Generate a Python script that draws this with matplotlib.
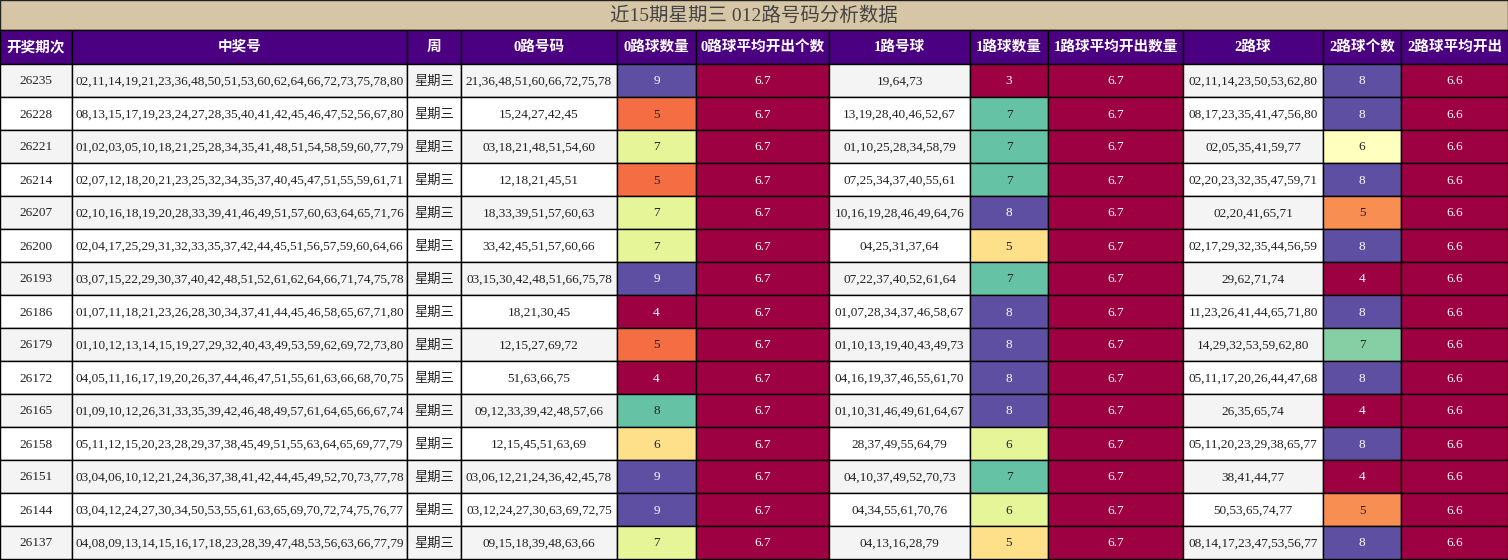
import matplotlib.pyplot as plt
import matplotlib.patches as mpatches
from matplotlib import cm, colors
import numpy as np

title = "近15期星期三 012路号码分析数据"
headers = ["开奖期次", "中奖号", "周", "0路号码", "0路球数量", "0路球平均开出个数",
           "1路号球", "1路球数量", "1路球平均开出数量", "2路球", "2路球个数", "2路球平均开出"]

issues = ["26235", "26228", "26221", "26214", "26207", "26200", "26193", "26186",
          "26179", "26172", "26165", "26158", "26151", "26144", "26137"]
draws = [
    "02,11,14,19,21,23,36,48,50,51,53,60,62,64,66,72,73,75,78,80",
    "08,13,15,17,19,23,24,27,28,35,40,41,42,45,46,47,52,56,67,80",
    "01,02,03,05,10,18,21,25,28,34,35,41,48,51,54,58,59,60,77,79",
    "02,07,12,18,20,21,23,25,32,34,35,37,40,45,47,51,55,59,61,71",
    "02,10,16,18,19,20,28,33,39,41,46,49,51,57,60,63,64,65,71,76",
    "02,04,17,25,29,31,32,33,35,37,42,44,45,51,56,57,59,60,64,66",
    "03,07,15,22,29,30,37,40,42,48,51,52,61,62,64,66,71,74,75,78",
    "01,07,11,18,21,23,26,28,30,34,37,41,44,45,46,58,65,67,71,80",
    "01,10,12,13,14,15,19,27,29,32,40,43,49,53,59,62,69,72,73,80",
    "04,05,11,16,17,19,20,26,37,44,46,47,51,55,61,63,66,68,70,75",
    "01,09,10,12,26,31,33,35,39,42,46,48,49,57,61,64,65,66,67,74",
    "05,11,12,15,20,23,28,29,37,38,45,49,51,55,63,64,65,69,77,79",
    "03,04,06,10,12,21,24,36,37,38,41,42,44,45,49,52,70,73,77,78",
    "03,04,12,24,27,30,34,50,53,55,61,63,65,69,70,72,74,75,76,77",
    "04,08,09,13,14,15,16,17,18,23,28,39,47,48,53,56,63,66,77,79",
]
weekday = ["星期三"] * 15
road0 = ["21,36,48,51,60,66,72,75,78", "15,24,27,42,45", "03,18,21,48,51,54,60",
         "12,18,21,45,51", "18,33,39,51,57,60,63", "33,42,45,51,57,60,66",
         "03,15,30,42,48,51,66,75,78", "18,21,30,45", "12,15,27,69,72", "51,63,66,75",
         "09,12,33,39,42,48,57,66", "12,15,45,51,63,69", "03,06,12,21,24,36,42,45,78",
         "03,12,24,27,30,63,69,72,75", "09,15,18,39,48,63,66"]
cnt0 = [9, 5, 7, 5, 7, 7, 9, 4, 5, 4, 8, 6, 9, 9, 7]
avg0 = [6.7] * 15
road1 = ["19,64,73", "13,19,28,40,46,52,67", "01,10,25,28,34,58,79", "07,25,34,37,40,55,61",
         "10,16,19,28,46,49,64,76", "04,25,31,37,64", "07,22,37,40,52,61,64",
         "01,07,28,34,37,46,58,67", "01,10,13,19,40,43,49,73", "04,16,19,37,46,55,61,70",
         "01,10,31,46,49,61,64,67", "28,37,49,55,64,79", "04,10,37,49,52,70,73",
         "04,34,55,61,70,76", "04,13,16,28,79"]
cnt1 = [3, 7, 7, 7, 8, 5, 7, 8, 8, 8, 8, 6, 7, 6, 5]
avg1 = [6.7] * 15
road2 = ["02,11,14,23,50,53,62,80", "08,17,23,35,41,47,56,80", "02,05,35,41,59,77",
         "02,20,23,32,35,47,59,71", "02,20,41,65,71", "02,17,29,32,35,44,56,59",
         "29,62,71,74", "11,23,26,41,44,65,71,80", "14,29,32,53,59,62,80",
         "05,11,17,20,26,44,47,68", "26,35,65,74", "05,11,20,23,29,38,65,77",
         "38,41,44,77", "50,53,65,74,77", "08,14,17,23,47,53,56,77"]
cnt2 = [8, 8, 6, 8, 5, 8, 4, 8, 7, 8, 4, 8, 4, 5, 8]
avg2 = [6.6] * 15

columns = [issues, draws, weekday, road0, cnt0, avg0, road1, cnt1, avg1, road2, cnt2, avg2]
colored = {4, 5, 7, 8, 10, 11}
edges = [0, 72, 407, 461, 617, 696, 829, 970, 1048, 1183, 1323, 1401, 1508]

W, H = 1508, 560
fig = plt.figure(figsize=(W / 100, H / 100), dpi=100)
ax = fig.add_axes([0, 0, 1, 1])
ax.set_xlim(0, W)
ax.set_ylim(H, 0)
ax.axis('off')

fam = ['Liberation Serif', 'Noto Sans CJK SC']
cmap = plt.get_cmap('Spectral')

ax.add_patch(mpatches.Rectangle((0, 0), W, 30, facecolor='#d6c6a6', edgecolor='#222', lw=1))
ax.text(W / 2, 16, title, ha='center', va='center', fontsize=14, color='#444', family=fam)

hy0, hy1 = 30, 64
row_h = (H - 1 - hy1) / len(issues)
for j, h in enumerate(headers):
    x0, x1 = edges[j], edges[j + 1]
    ax.add_patch(mpatches.Rectangle((x0, hy0), x1 - x0, hy1 - hy0, facecolor='#4b0082', edgecolor='black', lw=1))
    ax.text((x0 + x1) / 2, (hy0 + hy1) / 2, h, ha='center', va='center', fontsize=10.5,
            color='white', weight='bold', family=fam)

for j, col in enumerate(columns):
    x0, x1 = edges[j], edges[j + 1]
    if j in colored:
        vals = np.array(col, dtype=float)
        lo, hi = vals.min(), vals.max()
        norm = colors.Normalize(lo, hi if hi > lo else lo + 1)
    for i, v in enumerate(col):
        y0 = hy1 + i * row_h
        if j in colored:
            fc = cmap(norm(v))
            lum = 0.299 * fc[0] + 0.587 * fc[1] + 0.114 * fc[2]
            tc = 'white' if lum < 0.5 else '#222'
        else:
            fc = '#f4f4f4' if i % 2 == 0 else 'white'
            tc = '#222'
        ax.add_patch(mpatches.Rectangle((x0, y0), x1 - x0, row_h, facecolor=fc, edgecolor='black', lw=1))
        ax.text((x0 + x1) / 2, y0 + row_h / 2 + 1, str(v), ha='center', va='center',
                fontsize=9.5, color=tc, family=fam)

fig.savefig('out.png', dpi=100)
